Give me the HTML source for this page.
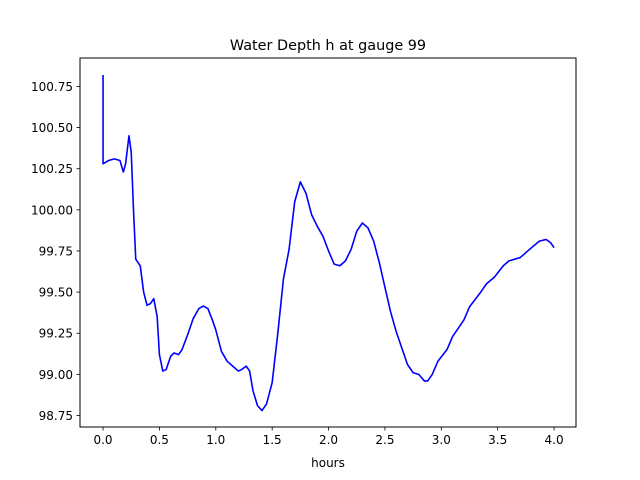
<!DOCTYPE html>
<html><head><meta charset="utf-8"><style>
body{margin:0;background:#fff}
svg{display:block;font-family:"DejaVu Sans","Liberation Sans",sans-serif}
</style></head><body>
<svg id="chart" width="640" height="480" viewBox="0 0 640 480" xmlns="http://www.w3.org/2000/svg">
<rect width="640" height="480" fill="#fff"/>
<text x="328" y="50" text-anchor="middle" font-size="14.4">Water Depth h at gauge 99</text>
<g id="plot"></g>
<rect x="80" y="58" width="496" height="369" fill="none" stroke="#000" stroke-width="1"/>
<text x="328" y="467" text-anchor="middle" font-size="12">hours</text>
</svg>
<script>
const hours=[0,0,0.05,0.1,0.15,0.18,0.2,0.23,0.25,0.27,0.29,0.33,0.36,0.39,0.42,0.45,0.48,0.5,0.53,0.56,0.6,0.63,0.67,0.7,0.75,0.8,0.85,0.89,0.93,0.97,1.0,1.05,1.1,1.15,1.2,1.23,1.27,1.3,1.33,1.37,1.41,1.45,1.5,1.55,1.6,1.65,1.7,1.75,1.8,1.85,1.9,1.95,2.0,2.05,2.1,2.15,2.2,2.25,2.3,2.35,2.4,2.45,2.5,2.55,2.6,2.65,2.7,2.75,2.8,2.85,2.88,2.92,2.97,3.05,3.1,3.2,3.25,3.35,3.4,3.47,3.55,3.6,3.7,3.8,3.87,3.93,3.97,4.0];
const depth=[100.82,100.28,100.30,100.31,100.30,100.23,100.28,100.45,100.35,100.0,99.70,99.66,99.50,99.42,99.43,99.46,99.35,99.12,99.02,99.03,99.11,99.13,99.12,99.15,99.24,99.34,99.40,99.415,99.40,99.33,99.27,99.14,99.08,99.05,99.02,99.03,99.05,99.02,98.90,98.81,98.78,98.82,98.95,99.25,99.58,99.76,100.05,100.17,100.10,99.97,99.90,99.84,99.75,99.67,99.66,99.69,99.76,99.87,99.92,99.89,99.81,99.68,99.53,99.38,99.26,99.16,99.06,99.01,99.00,98.96,98.96,99.00,99.08,99.15,99.23,99.33,99.41,99.50,99.55,99.59,99.66,99.69,99.71,99.77,99.81,99.82,99.80,99.77];
const xTicks=[0,0.5,1,1.5,2,2.5,3,3.5,4];
const xTickLabels=["0.0","0.5","1.0","1.5","2.0","2.5","3.0","3.5","4.0"];
const yTicks=[98.75,99.0,99.25,99.5,99.75,100.0,100.25,100.5,100.75];
const yTickLabels=["98.75","99.00","99.25","99.50","99.75","100.00","100.25","100.50","100.75"];

const X0=80,X1=576,Y0=58,Y1=427;
const xMin=-0.2044,xMax=4.1947,yMin=98.680,yMax=100.923;
const sx=v=>X0+(v-xMin)/(xMax-xMin)*(X1-X0);
const sy=v=>Y1-(v-yMin)/(yMax-yMin)*(Y1-Y0);
const NS="http://www.w3.org/2000/svg";
const g=document.getElementById('plot');
function mk(t,a){const e=document.createElementNS(NS,t);for(const k in a)e.setAttribute(k,a[k]);return e;}

xTicks.forEach((v,i)=>{
  const x=sx(v);
  const t=mk('line',{x1:x,x2:x,y1:Y1,y2:Y1+3.5,stroke:'#000','stroke-width':0.8});
  
  
  g.appendChild(t);
  const l=mk('text',{x:x,y:Y1+17,'text-anchor':'middle','font-size':12});
  
  
  l.textContent=xTickLabels[i];g.appendChild(l);
});
yTicks.forEach((v,i)=>{
  const y=sy(v);
  const t=mk('line',{x1:X0-3.5,x2:X0,y1:y,y2:y,stroke:'#000','stroke-width':0.8});
  
  
  g.appendChild(t);
  const l=mk('text',{x:X0-7,y:y+4.5,'text-anchor':'end','font-size':12});
  
  
  l.textContent=yTickLabels[i];g.appendChild(l);
});
const d=hours.map((h,i)=>(i?'L':'M')+sx(h).toFixed(2)+' '+sy(depth[i]).toFixed(2)).join(' ');
const p=mk('path',{d:d,fill:'none',stroke:'#0000ff','stroke-width':1.6,'stroke-linejoin':'round'});


g.appendChild(p);
</script>
</body></html>
